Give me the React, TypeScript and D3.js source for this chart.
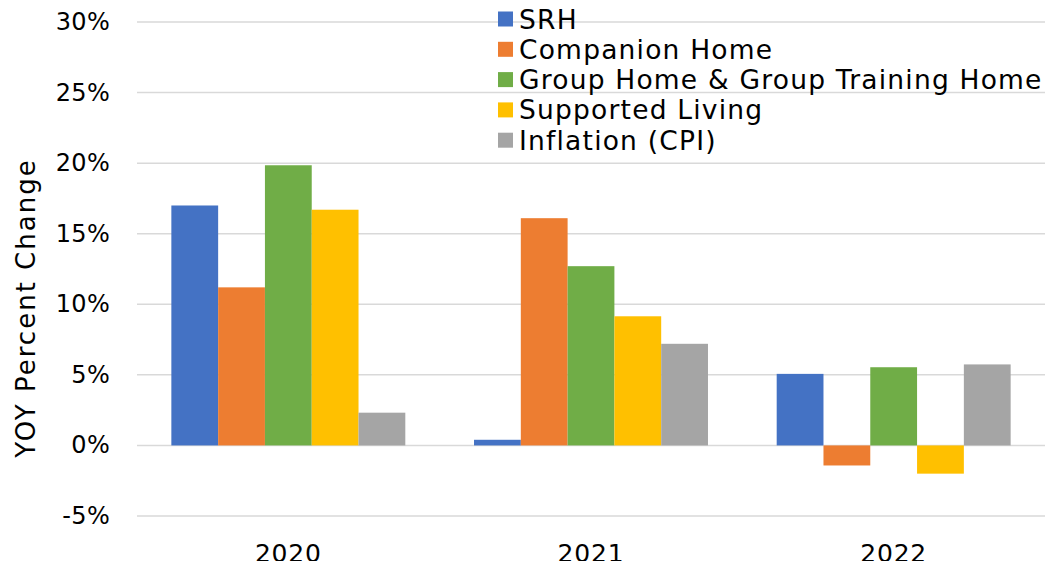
import React, { useEffect, useRef } from 'react';
import * as d3 from 'd3';

const years = ['2020', '2021', '2022'];
const seriesNames = ['SRH', 'Companion Home', 'Group Home & Group Training Home', 'Supported Living', 'Inflation (CPI)'];
const seriesColors = ['#4472C4', '#ED7D31', '#70AD47', '#FFC000', '#A5A5A5'];
const srh = [17.0, 0.4, 5.07];
const companionHome = [11.2, 16.1, -1.42];
const groupHome = [19.85, 12.7, 5.54];
const supportedLiving = [16.7, 9.15, -2.0];
const inflation = [2.32, 7.2, 5.74];
const yTicks = [-5, 0, 5, 10, 15, 20, 25, 30];

const App: React.FC = () => {
  const chartRef = useRef<SVGSVGElement | null>(null);

  useEffect(() => {
    const svg = d3.select(chartRef.current);
    const width = 1055;
    const height = 569;
    const margin = { top: 22, right: 10, bottom: 53, left: 137 };
    const font = '"DejaVu Sans", sans-serif';
    const values = [srh, companionHome, groupHome, supportedLiving, inflation];

    svg.selectAll('*').remove();

    const x0 = d3.scaleBand<string>()
      .domain(years)
      .range([margin.left, width - margin.right])
      .paddingInner(0.227)
      .paddingOuter(0.1135);

    const x1 = d3.scaleBand<string>()
      .domain(seriesNames)
      .range([0, x0.bandwidth()]);

    const y = d3.scaleLinear()
      .domain([-5, 30])
      .range([height - margin.bottom, margin.top]);

    // gridlines
    svg.append('g')
      .selectAll('line')
      .data(yTicks)
      .join('line')
      .attr('x1', margin.left)
      .attr('x2', width - margin.right)
      .attr('y1', d => y(d))
      .attr('y2', d => y(d))
      .attr('stroke', '#d9d9d9')
      .attr('stroke-width', 1.5);

    // y tick labels
    svg.append('g')
      .selectAll('text')
      .data(yTicks)
      .join('text')
      .attr('x', 110)
      .attr('y', d => y(d))
      .attr('text-anchor', 'end')
      .attr('dominant-baseline', 'central')
      .attr('font-family', font)
      .attr('font-size', 24)
      .attr('letter-spacing', 0.3)
      .attr('fill', '#000')
      .text(d => `${d}%`);

    // bars
    const groups = svg.append('g')
      .selectAll('g')
      .data(years)
      .join('g')
      .attr('transform', d => `translate(${x0(d)},0)`);

    groups.selectAll('rect')
      .data((_, i) => seriesNames.map((name, s) => ({ name, s, v: values[s][i] })))
      .join('rect')
      .attr('x', d => x1(d.name) as number)
      .attr('width', x1.bandwidth())
      .attr('y', d => y(Math.max(0, d.v)))
      .attr('height', d => Math.abs(y(d.v) - y(0)))
      .attr('fill', d => seriesColors[d.s]);

    // x labels
    svg.append('g')
      .selectAll('text')
      .data(years)
      .join('text')
      .attr('x', d => (x0(d) as number) + x0.bandwidth() / 2)
      .attr('y', 553)
      .attr('text-anchor', 'middle')
      .attr('dominant-baseline', 'central')
      .attr('font-family', font)
      .attr('font-size', 25)
      .attr('letter-spacing', 0.8)
      .text(d => d);

    // y axis title
    svg.append('text')
      .attr('transform', `translate(26,${308}) rotate(-90)`)
      .attr('text-anchor', 'middle')
      .attr('dominant-baseline', 'central')
      .attr('font-family', font)
      .attr('font-size', 26)
      .attr('letter-spacing', 2)
      .text('YOY Percent Change');

    // legend
    const legend = svg.append('g')
      .selectAll('g')
      .data(seriesNames)
      .join('g')
      .attr('transform', (_, i) => `translate(498,${19 + i * 30.3})`);

    legend.append('rect')
      .attr('x', 0)
      .attr('y', -7.5)
      .attr('width', 15)
      .attr('height', 15)
      .attr('fill', (_, i) => seriesColors[i]);

    legend.append('text')
      .attr('x', 21)
      .attr('y', 0)
      .attr('dominant-baseline', 'central')
      .attr('font-family', font)
      .attr('font-size', 26.5)
      .attr('letter-spacing', 1.2)
      .text(d => d);
  }, []);

  return <svg ref={chartRef} width={1055} height={569} style={{ display: 'block', margin: -8 }}></svg>;
};

export default App;
